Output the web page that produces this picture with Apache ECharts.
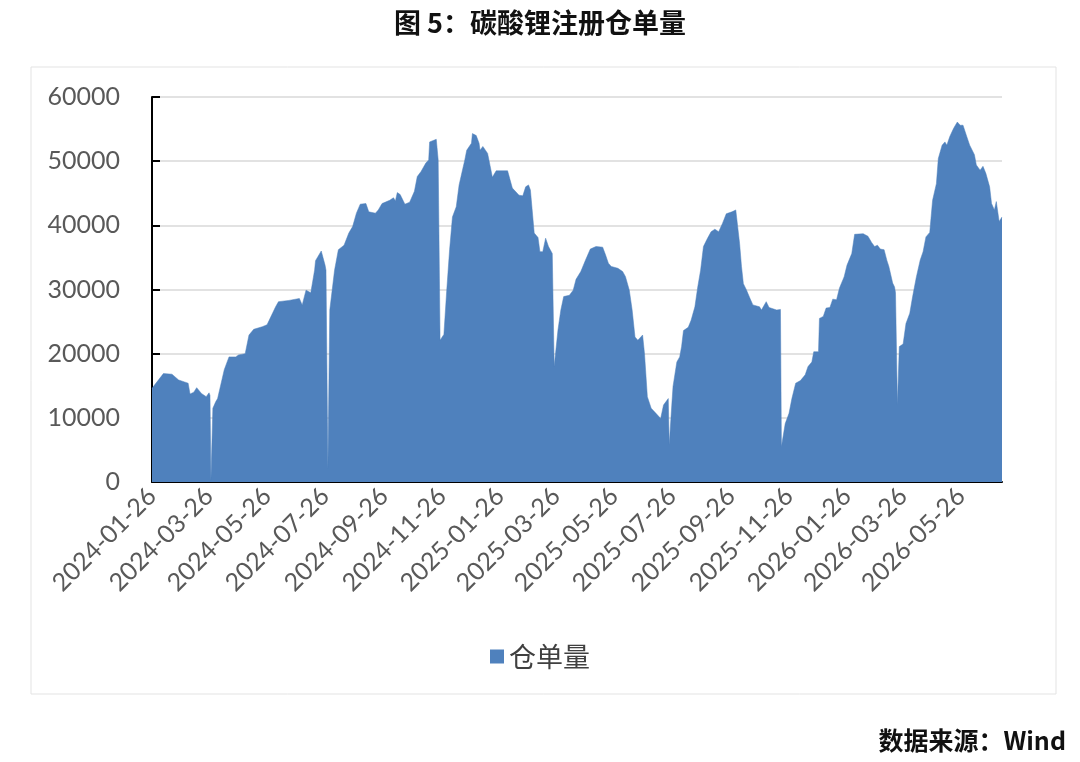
<!DOCTYPE html>
<html>
<head>
<meta charset="utf-8">
<script src="https://cdn.jsdelivr.net/npm/echarts@6/dist/echarts.min.js"></script>
<style>
html,body{margin:0;padding:0;background:#fff;}
#chart{width:1080px;height:762px;}
</style>
</head>
<body>
<div id="chart"></div>
<script>
const seriesName = '仓单量';
const tickDates = ['2024-01-26','2024-03-26','2024-05-26','2024-07-26','2024-09-26','2024-11-26','2025-01-26','2025-03-26','2025-05-26','2025-07-26','2025-09-26','2025-11-26','2026-01-26','2026-03-26','2026-05-26'];
const dates = [
'2024-01-26','2024-02-07','2024-02-16','2024-02-23','2024-03-04','2024-03-06','2024-03-10','2024-03-13','2024-03-18','2024-03-23',
'2024-03-26','2024-03-27','2024-03-28','2024-03-30','2024-04-02','2024-04-04','2024-04-11','2024-04-16','2024-04-23','2024-04-26',
'2024-05-03','2024-05-07','2024-05-12','2024-05-21','2024-05-26','2024-06-04','2024-06-07','2024-06-18','2024-06-29','2024-07-02',
'2024-07-06','2024-07-11','2024-07-15','2024-07-16','2024-07-22','2024-07-26','2024-07-27','2024-07-29','2024-07-31','2024-08-05',
'2024-08-09','2024-08-15','2024-08-20','2024-08-24','2024-08-28','2024-09-01','2024-09-07','2024-09-10','2024-09-17','2024-09-20',
'2024-09-24','2024-10-02','2024-10-06','2024-10-08','2024-10-10','2024-10-13','2024-10-18','2024-10-23','2024-10-28','2024-10-31',
'2024-11-04','2024-11-09','2024-11-12','2024-11-13','2024-11-20','2024-11-22','2024-11-24','2024-11-28','2024-12-01','2024-12-04',
'2024-12-07','2024-12-11','2024-12-14','2024-12-16','2024-12-20','2024-12-22','2024-12-27','2024-12-28','2025-01-01','2025-01-04',
'2025-01-05','2025-01-08','2025-01-10','2025-01-13','2025-01-18','2025-01-22','2025-02-03','2025-02-08','2025-02-15','2025-02-19',
'2025-02-22','2025-02-25','2025-02-27','2025-03-03','2025-03-07','2025-03-09','2025-03-12','2025-03-15','2025-03-18','2025-03-22',
'2025-03-24','2025-03-28','2025-03-31','2025-04-03','2025-04-09','2025-04-13','2025-04-16','2025-04-21','2025-04-26','2025-05-01',
'2025-05-07','2025-05-14','2025-05-17','2025-05-20','2025-05-23','2025-05-30','2025-06-04','2025-06-07','2025-06-11','2025-06-14',
'2025-06-17','2025-06-20','2025-06-25','2025-06-27','2025-06-30','2025-07-04','2025-07-09','2025-07-14','2025-07-17','2025-07-22',
'2025-07-23','2025-07-26','2025-07-27','2025-07-31','2025-08-03','2025-08-05','2025-08-07','2025-08-12','2025-08-15','2025-08-19',
'2025-08-22','2025-08-25','2025-08-28','2025-09-01','2025-09-05','2025-09-09','2025-09-13','2025-09-17','2025-09-21','2025-09-27',
'2025-10-01','2025-10-05','2025-10-07','2025-10-09','2025-10-12','2025-10-16','2025-10-19','2025-10-26','2025-10-28','2025-11-02',
'2025-11-05','2025-11-13','2025-11-17','2025-11-18','2025-11-22','2025-11-26','2025-11-29','2025-12-03','2025-12-08','2025-12-13',
'2025-12-16','2025-12-20','2025-12-22','2025-12-27','2025-12-28','2026-01-01','2026-01-04','2026-01-08','2026-01-11','2026-01-15',
'2026-01-18','2026-01-23','2026-01-26','2026-01-31','2026-02-03','2026-02-12','2026-02-17','2026-02-21','2026-02-24','2026-02-27',
'2026-03-02','2026-03-06','2026-03-09','2026-03-11','2026-03-15','2026-03-17','2026-03-18','2026-03-20','2026-03-22','2026-03-26',
'2026-03-29','2026-04-02','2026-04-05','2026-04-09','2026-04-13','2026-04-16','2026-04-19','2026-04-23','2026-04-26','2026-04-30',
'2026-05-02','2026-05-06','2026-05-09','2026-05-11','2026-05-14','2026-05-18','2026-05-22','2026-05-25','2026-05-28','2026-06-01',
'2026-06-04','2026-06-09','2026-06-11','2026-06-15','2026-06-18','2026-06-21','2026-06-25','2026-06-27','2026-06-30','2026-07-02',
'2026-07-05','2026-07-08'
];
const values = [
14600,16900,16800,15900,15400,13700,14000,14700,13800,13300,
13900,13500,300,11500,12500,13000,17500,19500,19500,19800,
20000,22900,23800,24200,24500,27300,28100,28300,28600,27600,
29900,29500,33000,34500,36000,33800,33000,2100,26800,33000,
36200,36900,38800,39800,41900,43300,43400,42100,41900,42400,
43400,43900,44300,43800,45100,44800,43300,43600,45300,47600,
48400,49700,50200,53000,53400,50200,22100,23000,29900,36200,
41300,42900,46300,47600,50200,51700,52800,54300,54000,52800,
51700,52300,52400,51200,47500,48500,48500,45800,44700,44600,
46000,46300,45500,38800,38100,35900,35900,38000,36700,35600,
18000,23700,26800,28900,29100,29900,31600,32800,34600,36300,
36700,36600,35400,34100,33600,33300,32800,32000,29900,26800,
22600,22100,22900,20000,13300,11500,10700,9900,12000,13000,
5800,12700,14900,18700,19500,21100,23600,24100,25200,27300,
30400,33000,36700,37900,39000,39400,39000,40300,41800,42100,
42400,37200,33600,30900,30000,28600,27600,27300,26800,28100,
27200,26800,26900,5500,9100,10700,13000,15400,15800,16700,
18000,18700,20300,20300,25500,25800,27100,27200,28500,28400,
30200,32000,33800,35600,38600,38700,38300,37300,36700,36900,
36300,36200,34500,33600,31000,30400,29500,12000,21100,21500,
24700,26300,28900,32000,34600,35900,38200,38900,43900,46500,
50400,52500,53000,52500,53800,55100,56100,55600,55600,53800,
52500,51000,49400,48600,49200,48100,46000,43400,42400,43700,
40600,41300
];

const chart = echarts.init(document.getElementById('chart'));
const parse = s => Date.UTC(+s.slice(0, 4), +s.slice(5, 7) - 1, +s.slice(8, 10));
const fmt = v => {
  const d = new Date(v);
  const p = n => (n < 10 ? '0' : '') + n;
  return d.getUTCFullYear() + '-' + p(d.getUTCMonth() + 1) + '-' + p(d.getUTCDate());
};
const option = {
  animation: false,
  backgroundColor: '#fff',
  title: {
    text: '图 5：碳酸锂注册仓单量',
    left: 'center',
    top: 4,
    textStyle: {fontFamily: 'Noto Sans CJK SC', fontSize: 27, fontWeight: 'bold', color: '#111'}
  },
  graphic: [
    {type: 'rect', shape: {x: 31, y: 67, width: 1025, height: 627}, style: {fill: 'none', stroke: '#e3e3e3', lineWidth: 1}, silent: true},
    {type: 'text', x: 1066, y: 740, style: {text: '数据来源：Wind', font: 'bold 25px "Noto Sans CJK SC"', fill: '#111', align: 'right', verticalAlign: 'middle'}}
  ],
  legend: {
    data: [seriesName],
    top: 638,
    left: 'center',
    icon: 'rect',
    itemWidth: 14,
    itemHeight: 14,
    itemGap: 8,
    textStyle: {fontFamily: 'Noto Sans CJK SC', fontSize: 27, color: '#404040'}
  },
  grid: {left: 152, right: 78, top: 97, bottom: 280, containLabel: false},
  xAxis: {
    type: 'value',
    min: parse(dates[0]),
    max: parse(dates[dates.length - 1]),
    axisLine: {show: true, onZero: false, lineStyle: {color: '#000', width: 2}},
    axisTick: {show: false},
    splitLine: {show: false},
    axisLabel: {
      customValues: tickDates.map(parse),
      rotate: 45,
      margin: 10,
      fontFamily: 'Lato',
      fontSize: 25,
      color: '#595959',
      formatter: v => fmt(v),
      hideOverlap: false
    }
  },
  yAxis: {
    type: 'value',
    min: 0,
    max: 60000,
    interval: 10000,
    axisLine: {show: true, lineStyle: {color: '#000', width: 2}},
    axisTick: {show: true, inside: true, length: 8, lineStyle: {color: '#000', width: 2}},
    splitLine: {show: true, lineStyle: {color: '#d9d9d9', width: 1.5}},
    axisLabel: {fontFamily: 'Lato', fontSize: 25, color: '#595959', margin: 32, formatter: v => String(v)}
  },
  series: [{
    name: seriesName,
    type: 'line',
    data: dates.map((d, i) => [parse(d), values[i]]),
    symbol: 'none',
    lineStyle: {width: 0.5, color: '#4f81bd'},
    itemStyle: {color: '#4f81bd'},
    areaStyle: {color: '#4f81bd', opacity: 1}
  }]
};
chart.setOption(option);
</script>
</body>
</html>
